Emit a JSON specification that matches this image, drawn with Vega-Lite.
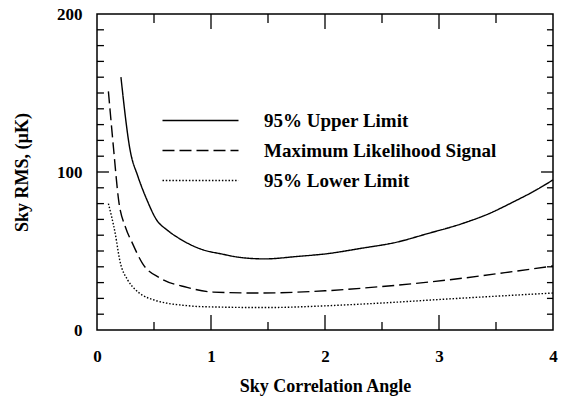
{
  "$schema": "https://vega.github.io/schema/vega-lite/v6.json",
  "width": 456,
  "height": 316,
  "autosize": "none",
  "padding": {"left": 97, "top": 14, "right": 8, "bottom": 73},
  "background": "white",
  "config": {
    "font": "Liberation Serif",
    "view": {"stroke": "black", "strokeWidth": 1.5},
    "axis": {
      "domain": false,
      "grid": false,
      "ticks": false,
      "labelColor": "black",
      "titleColor": "black",
      "labelFont": "Liberation Serif",
      "titleFont": "Liberation Serif",
      "labelFontSize": 17,
      "titleFontSize": 18,
      "labelFontWeight": "bold",
      "titleFontWeight": "bold"
    },
    "legend": {
      "labelFont": "Liberation Serif",
      "labelFontSize": 19,
      "labelFontWeight": "bold",
      "labelColor": "black",
      "labelLimit": 0
    }
  },
  "datasets": {
    "xt": [{"v": 0.5}, {"v": 1}, {"v": 1.5}, {"v": 2}, {"v": 2.5}, {"v": 3}, {"v": 3.5}],
    "yt": [{"v": 10}, {"v": 20}, {"v": 30}, {"v": 40}, {"v": 50}, {"v": 60}, {"v": 70}, {"v": 80}, {"v": 90}, {"v": 100}, {"v": 110}, {"v": 120}, {"v": 130}, {"v": 140}, {"v": 150}, {"v": 160}, {"v": 170}, {"v": 180}, {"v": 190}],
    "curves": [
      {"x": 0.21, "y": 160, "s": "95% Upper Limit"},
      {"x": 0.29, "y": 114, "s": "95% Upper Limit"},
      {"x": 0.36, "y": 97, "s": "95% Upper Limit"},
      {"x": 0.44, "y": 82, "s": "95% Upper Limit"},
      {"x": 0.52, "y": 70, "s": "95% Upper Limit"},
      {"x": 0.62, "y": 63, "s": "95% Upper Limit"},
      {"x": 0.72, "y": 58, "s": "95% Upper Limit"},
      {"x": 0.9, "y": 51.5, "s": "95% Upper Limit"},
      {"x": 1.1, "y": 48, "s": "95% Upper Limit"},
      {"x": 1.25, "y": 46, "s": "95% Upper Limit"},
      {"x": 1.47, "y": 45, "s": "95% Upper Limit"},
      {"x": 1.75, "y": 46.5, "s": "95% Upper Limit"},
      {"x": 2.04, "y": 48.5, "s": "95% Upper Limit"},
      {"x": 2.3, "y": 51.5, "s": "95% Upper Limit"},
      {"x": 2.63, "y": 55.6, "s": "95% Upper Limit"},
      {"x": 2.9, "y": 61, "s": "95% Upper Limit"},
      {"x": 3.21, "y": 67.5, "s": "95% Upper Limit"},
      {"x": 3.45, "y": 74, "s": "95% Upper Limit"},
      {"x": 3.65, "y": 81, "s": "95% Upper Limit"},
      {"x": 3.85, "y": 88.5, "s": "95% Upper Limit"},
      {"x": 4.0, "y": 95, "s": "95% Upper Limit"},
      {"x": 0.10, "y": 151, "s": "Maximum Likelihood Signal"},
      {"x": 0.145, "y": 115, "s": "Maximum Likelihood Signal"},
      {"x": 0.19, "y": 82, "s": "Maximum Likelihood Signal"},
      {"x": 0.25, "y": 65, "s": "Maximum Likelihood Signal"},
      {"x": 0.31, "y": 55, "s": "Maximum Likelihood Signal"},
      {"x": 0.40, "y": 42, "s": "Maximum Likelihood Signal"},
      {"x": 0.55, "y": 33, "s": "Maximum Likelihood Signal"},
      {"x": 0.79, "y": 27, "s": "Maximum Likelihood Signal"},
      {"x": 1.02, "y": 24, "s": "Maximum Likelihood Signal"},
      {"x": 1.43, "y": 23.4, "s": "Maximum Likelihood Signal"},
      {"x": 1.61, "y": 23.6, "s": "Maximum Likelihood Signal"},
      {"x": 2.0, "y": 24.8, "s": "Maximum Likelihood Signal"},
      {"x": 2.48, "y": 27.4, "s": "Maximum Likelihood Signal"},
      {"x": 3.07, "y": 31.6, "s": "Maximum Likelihood Signal"},
      {"x": 3.65, "y": 37, "s": "Maximum Likelihood Signal"},
      {"x": 4.0, "y": 40.5, "s": "Maximum Likelihood Signal"},
      {"x": 0.10, "y": 80, "s": "95% Lower Limit"},
      {"x": 0.16, "y": 61, "s": "95% Lower Limit"},
      {"x": 0.20, "y": 44, "s": "95% Lower Limit"},
      {"x": 0.27, "y": 31.6, "s": "95% Lower Limit"},
      {"x": 0.33, "y": 26, "s": "95% Lower Limit"},
      {"x": 0.40, "y": 22, "s": "95% Lower Limit"},
      {"x": 0.50, "y": 19, "s": "95% Lower Limit"},
      {"x": 0.61, "y": 17, "s": "95% Lower Limit"},
      {"x": 0.75, "y": 15.7, "s": "95% Lower Limit"},
      {"x": 0.88, "y": 14.9, "s": "95% Lower Limit"},
      {"x": 1.02, "y": 14.6, "s": "95% Lower Limit"},
      {"x": 1.46, "y": 14.2, "s": "95% Lower Limit"},
      {"x": 1.61, "y": 14.3, "s": "95% Lower Limit"},
      {"x": 2.0, "y": 15.3, "s": "95% Lower Limit"},
      {"x": 2.48, "y": 17, "s": "95% Lower Limit"},
      {"x": 3.07, "y": 19.6, "s": "95% Lower Limit"},
      {"x": 3.65, "y": 22, "s": "95% Lower Limit"},
      {"x": 4.0, "y": 23.4, "s": "95% Lower Limit"}
    ]
  },
  "layer": [
    {
      "data": {"name": "curves"},
      "mark": {"type": "line", "color": "black", "strokeWidth": 1.4, "interpolate": "monotone"},
      "encoding": {
        "x": {
          "field": "x", "type": "quantitative",
          "scale": {"domain": [0, 4], "nice": false, "zero": false},
          "title": "Sky Correlation Angle",
          "axis": {
            "orient": "bottom",
            "values": [0, 1, 2, 3, 4],
            "format": "d",
            "ticks": false,
            "labelPadding": 18,
            "labelFlush": false,
            "labelOverlap": false,
            "titlePadding": 13
          }
        },
        "y": {
          "field": "y", "type": "quantitative",
          "scale": {"domain": [0, 200], "nice": false},
          "title": "Sky RMS, (µK)",
          "axis": {
            "orient": "left",
            "values": [0, 100, 200],
            "format": "d",
            "ticks": false,
            "labelPadding": 15,
            "labelFlush": false,
            "labelOverlap": false,
            "titlePadding": 25
          }
        },
        "strokeDash": {
          "field": "s", "type": "nominal",
          "scale": {
            "domain": ["95% Upper Limit", "Maximum Likelihood Signal", "95% Lower Limit"],
            "range": [[1, 0], [12, 5], [1.5, 1.8]]
          },
          "legend": {
            "title": null,
            "orient": "none",
            "legendX": 90,
            "legendY": 93,
            "padding": 0,
            "symbolType": "M-3,0H3",
            "symbolSize": 642,
            "symbolStrokeWidth": 1.3,
            "symbolStrokeColor": "black",
            "labelOffset": 50,
            "labelLimit": 0,
            "rowPadding": 6
          }
        }
      }
    },
    {
      "data": {"name": "xt"},
      "transform": [{"filter": "datum.v % 1 === 0"}],
      "mark": {"type": "rule", "color": "black", "strokeWidth": 1.3},
      "encoding": {
        "x": {"field": "v", "type": "quantitative", "title": "Sky Correlation Angle"},
        "y": {"datum": 0, "type": "quantitative", "title": "Sky RMS, (µK)"},
        "y2": {"datum": 9.5}
      }
    },
    {
      "data": {"name": "xt"},
      "transform": [{"filter": "datum.v % 1 !== 0"}],
      "mark": {"type": "rule", "color": "black", "strokeWidth": 1.3},
      "encoding": {
        "x": {"field": "v", "type": "quantitative", "title": "Sky Correlation Angle"},
        "y": {"datum": 0, "type": "quantitative", "title": "Sky RMS, (µK)"},
        "y2": {"datum": 5}
      }
    },
    {
      "data": {"name": "xt"},
      "transform": [{"filter": "datum.v % 1 === 0"}],
      "mark": {"type": "rule", "color": "black", "strokeWidth": 1.3},
      "encoding": {
        "x": {"field": "v", "type": "quantitative", "title": "Sky Correlation Angle"},
        "y": {"datum": 200, "type": "quantitative", "title": "Sky RMS, (µK)"},
        "y2": {"datum": 190.5}
      }
    },
    {
      "data": {"name": "xt"},
      "transform": [{"filter": "datum.v % 1 !== 0"}],
      "mark": {"type": "rule", "color": "black", "strokeWidth": 1.3},
      "encoding": {
        "x": {"field": "v", "type": "quantitative", "title": "Sky Correlation Angle"},
        "y": {"datum": 200, "type": "quantitative", "title": "Sky RMS, (µK)"},
        "y2": {"datum": 194.3}
      }
    },
    {
      "data": {"name": "yt"},
      "transform": [{"filter": "datum.v % 100 === 0"}],
      "mark": {"type": "rule", "color": "black", "strokeWidth": 1.3},
      "encoding": {
        "y": {"field": "v", "type": "quantitative", "title": "Sky RMS, (µK)"},
        "x": {"datum": 0, "type": "quantitative", "title": "Sky Correlation Angle"},
        "x2": {"datum": 0.105}
      }
    },
    {
      "data": {"name": "yt"},
      "transform": [{"filter": "datum.v % 100 !== 0"}],
      "mark": {"type": "rule", "color": "black", "strokeWidth": 1.3},
      "encoding": {
        "y": {"field": "v", "type": "quantitative", "title": "Sky RMS, (µK)"},
        "x": {"datum": 0, "type": "quantitative", "title": "Sky Correlation Angle"},
        "x2": {"datum": 0.061}
      }
    },
    {
      "data": {"name": "yt"},
      "transform": [{"filter": "datum.v % 100 === 0"}],
      "mark": {"type": "rule", "color": "black", "strokeWidth": 1.3},
      "encoding": {
        "y": {"field": "v", "type": "quantitative", "title": "Sky RMS, (µK)"},
        "x": {"datum": 4, "type": "quantitative", "title": "Sky Correlation Angle"},
        "x2": {"datum": 3.895}
      }
    },
    {
      "data": {"name": "yt"},
      "transform": [{"filter": "datum.v % 100 !== 0"}],
      "mark": {"type": "rule", "color": "black", "strokeWidth": 1.3},
      "encoding": {
        "y": {"field": "v", "type": "quantitative", "title": "Sky RMS, (µK)"},
        "x": {"datum": 4, "type": "quantitative", "title": "Sky Correlation Angle"},
        "x2": {"datum": 3.947}
      }
    }
  ]
}
